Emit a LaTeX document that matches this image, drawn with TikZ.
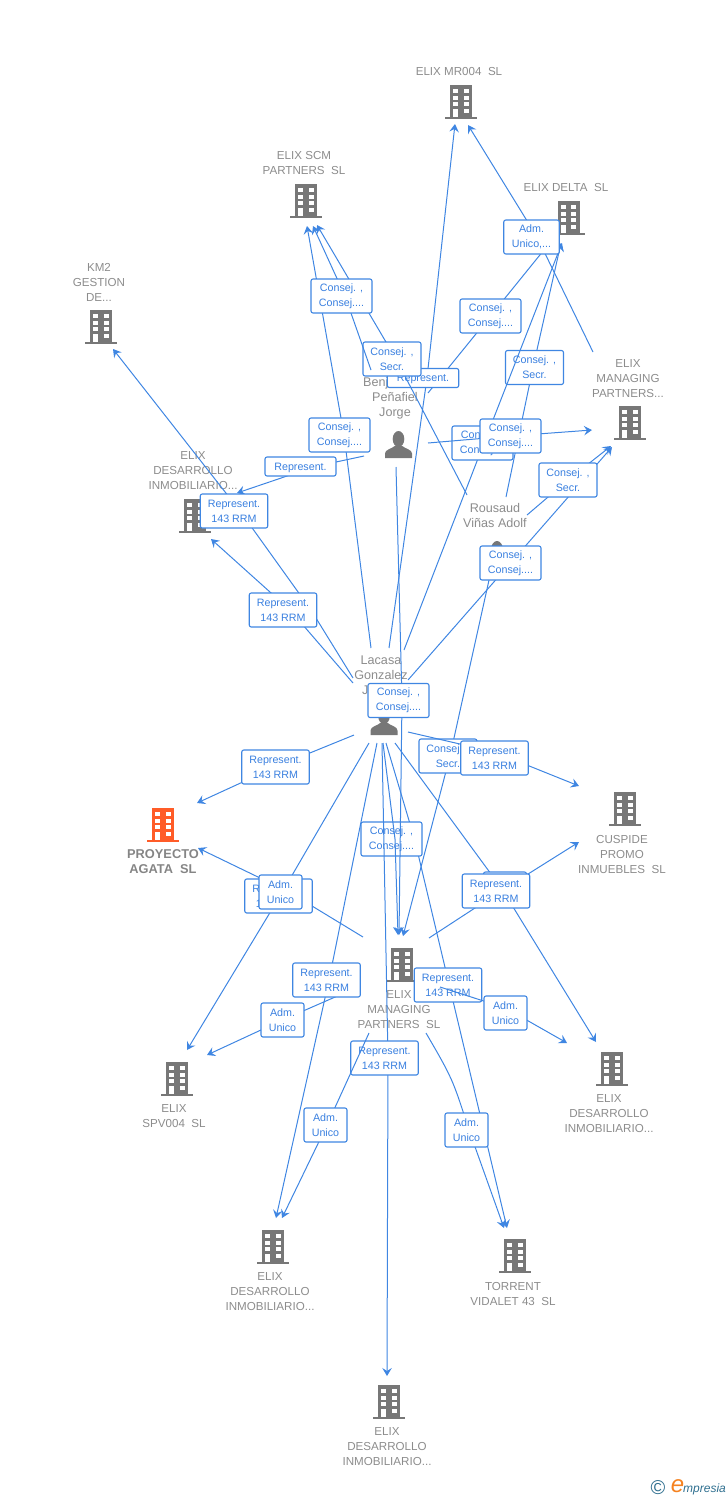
\documentclass[tikz,border=0pt]{standalone}
\usepackage{fontspec}
\setmainfont{Liberation Sans}
\usetikzlibrary{arrows.meta}
\definecolor{linkblue}{HTML}{3F86E2}
\definecolor{textblue}{HTML}{3A80E0}
\definecolor{namegray}{HTML}{8C8C8C}
\definecolor{iconorange}{HTML}{FF5C28}
\definecolor{icongray}{HTML}{777777}
\definecolor{logoteal}{HTML}{2F6F8F}
\definecolor{logoorange}{HTML}{F58220}
\pgfdeclarelayer{under}
\pgfdeclarelayer{boxa}
\pgfdeclarelayer{wirea}
\pgfdeclarelayer{boxb}
\pgfdeclarelayer{wireb}
\pgfsetlayers{under,boxa,wirea,boxb,wireb,main}
\tikzset{
  link/.style={linkblue,line width=1pt,-{Stealth[length=8pt,width=9.5pt,inset=3pt]}},
  lab/.style={draw=linkblue,line width=1.1pt,fill=white,rounded corners=2pt,text=textblue,align=center,inner sep=0pt,minimum height=34pt,font=\fontsize{10.7}{15}\selectfont,execute at begin node={\rule{0pt}{10pt}}},
  ccbox/.style={lab,minimum width=61pt},
  csbox/.style={lab,minimum width=58pt},
  rpbox/.style={lab,minimum width=67.5pt},
  aubox/.style={lab,minimum width=43pt},
  rponly/.style={lab,minimum width=71.5pt,minimum height=19pt},
  company/.style={text=namegray,align=center,inner sep=0pt,yshift=-1pt,font=\fontsize{11.6}{15}\selectfont},
  person/.style={text=namegray,align=center,inner sep=0pt,yshift=-1pt,font=\fontsize{12.6}{15}\selectfont},
  building/.pic={
    \fill[pic actions] (-11,0) rectangle (11,31.5);
    \fill[pic actions] (-16,31.5) rectangle (16,33.5);
    \foreach \wy in {3.5,10.5,17}{
      \fill[white] (-8,\wy) rectangle (-3,\wy+4.2);
      \fill[white] (2.5,\wy) rectangle (7.5,\wy+4.2);
    }
    \fill[white] (2.5,23.5) rectangle (7.5,27.7);
    \fill[white] (-8,23.5) rectangle (-3,31.5);
  },
  human/.pic={
    \fill[pic actions] (0,8) ellipse (5.8 and 8);
    \fill[pic actions] (-13.5,27) -- (-13.5,22.5) .. controls (-13.5,18.5) and (-7,18) .. (-3,14.5) -- (3,14.5) .. controls (7,18) and (13.5,18.5) .. (13.5,22.5) -- (13.5,27) -- cycle;
  }
}

\begin{document}
\begin{tikzpicture}[x=1pt,y=-1pt]
\useasboundingbox (0,0) rectangle (728,1500);

% Free ends of the connectors
\foreach \name/\x/\y in {benjScm/371/370,rouScm/467/495,lacScm/371/648,benjEdt/364/456,benjDelta/428/393,lacMr/389/648,mngMr/593/352,lacDelta/404/650,rouDelta/506/497,benjMng/428/443,rouMng/527/515,lacMng/408/680,rouCen/493/562,lacEdt/353/683,lacKm/353/678,lacPro/354/735,lacCus/408/732,lacBot/382/743,lacCen/383/743,benjCen/396/467,lacTor/386/743,lacSpv/369/743,lacDes/395/743,lacDsl/377/743,cenPro/363/937,cenCus/429/938,cenSpv/358/987,cenDsl/369/1033,cenTor/426/1033,cenDsr/440/987}{
  \coordinate (\name) at (\x,\y);
}
\foreach \name/\x/\y in {atScmA/313/226,atScmB/317/225,atScmC/307/226,atEdtA/237/493,atEdtB/211/539,atDeltaA/552/240,atDeltaB/562/243,atDeltaC/561/243,atMrA/455/124,atMrB/468/125,atMngA/592/430,atMngB/611/446,atMngC/612/447,atKm/113/349,atProA/197/803,atProB/198/848,atCusA/579/786,atCusB/579/842,atCenA/403/936,atCenB/398/935,atCenC/399/935,atBot/387/1376,atTorA/507/1228,atTorB/504/1228,atSpvA/187/1050,atSpvB/207/1055,atDslA/276/1218,atDslB/282/1218,atDsrA/596/1042,atDsrB/567/1043}{
  \coordinate (\name) at (\x,\y);
}

\begin{pgfonlayer}{under}
% Company icons
\foreach \x/\y in {461/85,306/184,568.5/201,101/310,195/499,630/406,625/792,402/948,177/1062,612/1052,273/1230,515/1239,389/1385}{
  \pic[fill=icongray] at (\x,\y) {building};
}
\pic[fill=iconorange] at (163,808) {building};

% Person icons
\pic[fill=icongray] at (398.5,431) {human};
\pic[fill=icongray] at (497,541) {human};
\pic[fill=icongray] at (384,708) {human};

% Names
\node[company] (mrfour) at (459,71) {ELIX MR004\ \ SL};
\node[company] (scm) at (304,162.5) {ELIX SCM\\PARTNERS\ \ SL};
\node[company] (delta) at (566,187) {ELIX DELTA\ \ SL};
\node[company] (kmtwo) at (99,281) {KM2\\GESTION\\DE...};
\node[company] (edtop) at (193,470) {ELIX\\DESARROLLO\\INMOBILIARIO...};
\node[company] (mngtop) at (628,378) {ELIX\\MANAGING\\PARTNERS...};
\node[company] (cuspide) at (622,853) {CUSPIDE\\PROMO\\INMUEBLES\ \ SL};
\node[company] (mngcen) at (399,1009) {ELIX\\MANAGING\\PARTNERS\ \ SL};
\node[company] (spv) at (174,1115.5) {ELIX\\SPV004\ \ SL};
\node[company] (edright) at (609,1113) {ELIX\\DESARROLLO\\INMOBILIARIO...};
\node[company] (edleft) at (270,1291) {ELIX\\DESARROLLO\\INMOBILIARIO...};
\node[company] (torrent) at (513,1292.5) {TORRENT\\VIDALET 43\ \ SL};
\node[company] (edbot) at (387,1446) {ELIX\\DESARROLLO\\INMOBILIARIO...};
\node[company,font=\fontsize{12.8}{15}\selectfont\bfseries,text=icongray!90] (agata) at (163,860.5) {PROYECTO\\AGATA\ \ SL};
\node[person,anchor=west] (benjA) at (363,382) {Benj};
\node[person] (benjB) at (395,404.5) {Peñafiel\\Jorge};
\node[person] (rousaud) at (495,514.5) {Rousaud\\Viñas Adolf};
\node[person] (lacasa) at (381,666.5) {Lacasa\\Gonzalez};
\node[person,anchor=east] (lacasaJ) at (368.5,689) {J};

% Logo
\node[text=logoteal,inner sep=0pt,font=\fontsize{20}{20}\selectfont] (logoC) at (658,1488) {©};
\node[text=logoorange,inner sep=0pt,font=\fontsize{24}{24}\selectfont\itshape] (logoE) at (677.5,1486) {e};
\node[text=logoteal,inner sep=0pt,anchor=west,font=\fontsize{12}{12}\selectfont\itshape] (logoT) at (683,1489.5) {mpresia};
\end{pgfonlayer}

% Labels the wires run over
\begin{pgfonlayer}{boxa}
\node[rponly] (rpA) at (423,378) {Represent.};
\node[csbox] (csB) at (534.5,367.5) {Consej. ,\\Secr.};
\node[csbox] (csC) at (568,480) {Consej. ,\\Secr.};
\node[ccbox] (ccH) at (391.5,839) {Consej. ,\\Consej....};
\node[csbox] (csD) at (448,756) {Consej. ,\\Secr.};
\node[rpbox] (rpJ) at (448,985) {Represent.\\143 RRM};
\end{pgfonlayer}
\begin{pgfonlayer}{boxb}
\node[csbox] (csA) at (392,359) {Consej. ,\\Secr.};
\node[rpbox] (rpK) at (384.5,1058) {Represent.\\143 RRM};
\node[ccbox] (ccD) at (482.5,443) {Consej. ,\\Consej....};
\end{pgfonlayer}

% Labels on top
\node[ccbox] (ccA) at (341.5,296) {Consej. ,\\Consej....};
\node[aubox,minimum width=55.5pt] (auA) at (531.5,237) {Adm.\\Unico,...};
\node[ccbox] (ccB) at (490.5,316) {Consej. ,\\Consej....};
\node[ccbox] (ccC) at (339.5,435) {Consej. ,\\Consej....};
\node[rponly,minimum width=71pt] (rpB) at (300.5,466.5) {Represent.};
\node[rpbox] (rpC) at (234,511) {Represent.\\143 RRM};
\node[ccbox] (ccE) at (510.5,436) {Consej. ,\\Consej....};
\node[ccbox] (ccF) at (510.5,563) {Consej. ,\\Consej....};
\node[rpbox] (rpD) at (283,610) {Represent.\\143 RRM};
\node[ccbox] (ccG) at (398.5,700.5) {Consej. ,\\Consej....};
\node[rpbox] (rpE) at (275.5,767) {Represent.\\143 RRM};
\node[rpbox] (rpF) at (494.5,758) {Represent.\\143 RRM};
\node[rpbox] (rpG) at (278.5,896) {R\phantom{epresent.}\\1\phantom{43 RRM}};
\node[aubox] (auB) at (280.5,892) {Adm.\\Unico};
\node[aubox] (auC) at (505,889) {};
\node[rpbox] (rpH) at (496,891) {Represent.\\143 RRM};
\node[rpbox] (rpI) at (326.5,980) {Represent.\\143 RRM};
\node[aubox] (auD) at (282.5,1020) {Adm.\\Unico};
\node[aubox] (auE) at (505.5,1013) {Adm.\\Unico};
\node[aubox] (auF) at (325.5,1125) {Adm.\\Unico};
\node[aubox] (auG) at (466.5,1130) {Adm.\\Unico};

% Connectors under every label
\begin{pgfonlayer}{under}
\draw[link] (lacScm) -- ([xshift=4.5pt]ccC.center) -- (atScmC); % Lacasa to SCM
\draw[link] (benjEdt) -- ([xshift=14.5pt]rpB.center) -- (atEdtA); % Benj to Desarrollo
\draw[link] (benjDelta) -- (ccB.center) -- (atDeltaA); % Benj to Delta
\draw[link] (lacMr) -- ([xshift=4pt]rpA.center) -- (atMrA); % Lacasa to MR004
\draw[link] (mngMr) -- ([xshift=5.5pt]auA.center) -- (atMrB); % Managing to MR004
\draw[link] (rouDelta) -- ([xshift=-1.5pt]csB.center) -- (atDeltaC); % Rousaud to Delta
\draw[link] (rouMng) -- (csC.center) -- (atMngB); % Rousaud to Managing
\draw[link] (rouCen) -- ([xshift=2pt]csD.center) -- (atCenA); % Rousaud to centre
\draw[link] (lacEdt) -- ([xshift=7pt]rpD.center) -- (atEdtB); % Lacasa to Desarrollo
\draw[link] (lacKm) -- ([xshift=28pt]rpD.center) -- ([xshift=6pt]rpC.center) -- (atKm); % Lacasa to KM2
\draw[link] (lacPro) -- (rpE.center) -- (atProA); % Lacasa to Proyecto
\draw[link] (lacTor) -- ([xshift=23pt]ccH.center) -- (atTorA); % Lacasa to Torrent
\draw[link] (lacSpv) -- ([xshift=1.5pt]rpG.center) -- (atSpvA); % Lacasa to SPV004
\draw[link] (lacDes) -- ([xshift=-3pt]auC.center) -- (atDsrA); % Lacasa to Desarrollo right
\draw[link] (cenPro) -- ([xshift=8.5pt]auB.center) -- (atProB); % centre to Proyecto
\draw[link] (cenCus) -- ([xshift=5pt]rpH.center) -- (atCusB); % centre to Cuspide
\draw[link] (cenSpv) -- (auD.center) -- (atSpvB); % centre to SPV004
\draw[link] (lacDsl) -- ([xshift=2.5pt]rpI.center) -- (atDslA); % Lacasa to Desarrollo left
\draw[link] (cenTor) .. controls (452.5,1078.6) .. ([xshift=2.5pt]auG.center) -- (atTorB); % centre to Torrent
\draw[link] (lacMng) -- (ccF.center) -- (atMngC); % Lacasa to Managing
\end{pgfonlayer}

% Connectors over the first labels
\begin{pgfonlayer}{wirea}
\draw[link] (rouScm) -- ([xshift=4pt]csA.center) -- (atScmB); % Rousaud to SCM
\draw[link] (lacDelta) -- ([xshift=1.5pt]ccD.center) -- (atDeltaB); % Lacasa to Delta
\draw[link] (lacCus) -- ([yshift=6pt]rpF.center) -- (atCusA); % Lacasa to Cuspide
\draw[link] (lacBot) -- ([xshift=3.5pt]rpK.center) -- (atBot); % Lacasa to bottom Desarrollo
\draw[link] (lacCen) -- ([xshift=3.5pt]ccH.center) -- (atCenB); % Lacasa to centre
\draw[link] (benjCen) -- ([xshift=3.5pt]ccG.center) -- (atCenC); % Benj to centre
\draw[link] (cenDsr) -- ([yshift=5pt]auE.center) -- (atDsrB); % centre to Desarrollo right
\end{pgfonlayer}

% Connectors over the second labels
\begin{pgfonlayer}{wireb}
\draw[link] (benjScm) -- ([xshift=3.5pt]ccA.center) -- (atScmA); % Benj to SCM
\draw[link] (benjMng) -- (ccE.center) -- (atMngA); % Benj to Managing
\draw[link] (cenDsl) -- ([xshift=1.5pt]auF.center) -- (atDslB); % centre to Desarrollo left
\end{pgfonlayer}

\end{tikzpicture}
\end{document}
